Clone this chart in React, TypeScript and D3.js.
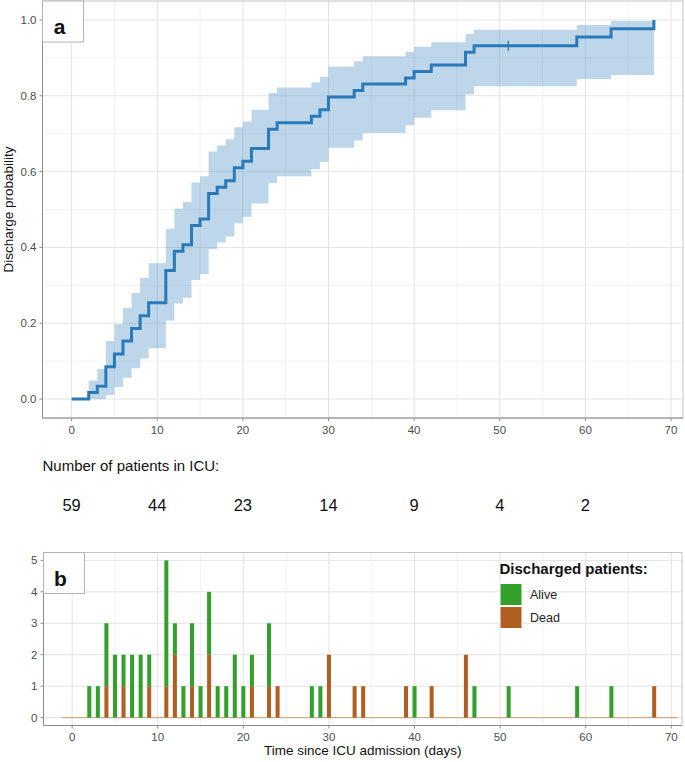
import { useEffect, useRef } from 'react';
import * as d3 from 'd3';

// panel a: cumulative discharge probability (step values)
const kmTimes = [0, 2, 3, 4, 5, 6, 7, 8, 9, 11, 12, 13, 14, 15, 16, 17, 18, 19, 20, 21, 23, 24, 28, 29, 30, 33, 34, 39, 40, 42, 46, 47, 59, 63, 68];
const kmEstimate = [0, 0.017, 0.034, 0.085, 0.119, 0.153, 0.186, 0.22, 0.254, 0.339, 0.39, 0.407, 0.458, 0.475, 0.542, 0.559, 0.576, 0.61, 0.627, 0.661, 0.712, 0.729, 0.746, 0.763, 0.797, 0.814, 0.831, 0.847, 0.864, 0.881, 0.915, 0.932, 0.955, 0.977, 1.0];
const kmLower = [0, 0, 0, 0.011, 0.032, 0.056, 0.081, 0.107, 0.134, 0.207, 0.252, 0.267, 0.314, 0.33, 0.396, 0.413, 0.429, 0.464, 0.481, 0.516, 0.57, 0.588, 0.606, 0.625, 0.663, 0.682, 0.702, 0.722, 0.742, 0.762, 0.804, 0.825, 0.844, 0.855];
const kmUpper = [0, 0.049, 0.079, 0.153, 0.197, 0.24, 0.28, 0.319, 0.358, 0.449, 0.502, 0.52, 0.571, 0.588, 0.653, 0.669, 0.685, 0.717, 0.732, 0.763, 0.807, 0.822, 0.836, 0.85, 0.877, 0.891, 0.904, 0.916, 0.929, 0.941, 0.963, 0.974, 0.987, 0.997];
const censorTimes = [51];
const censorValues = [0.932];

// risk table
const riskTimes = [0, 10, 20, 30, 40, 50, 60];
const riskCounts = [59, 44, 23, 14, 9, 4, 2];

// panel b: discharged patients per day
const barDays = [2, 3, 4, 5, 6, 7, 8, 9, 11, 12, 13, 14, 15, 16, 17, 18, 19, 20, 21, 23, 24, 28, 29, 30, 33, 34, 39, 40, 42, 46, 47, 51, 59, 63, 68];
const aliveCounts = [1, 1, 2, 2, 1, 2, 2, 1, 4, 1, 1, 2, 1, 2, 1, 1, 2, 1, 1, 2, 0, 1, 1, 0, 0, 0, 0, 1, 0, 0, 1, 1, 1, 1, 0];
const deadCounts = [0, 0, 1, 0, 1, 0, 0, 1, 1, 2, 0, 1, 0, 2, 0, 0, 0, 0, 1, 1, 1, 0, 0, 2, 1, 1, 1, 0, 1, 2, 0, 0, 0, 0, 1];
const baselineExtent = [-1.25, 70.8];

const xTicks = [0, 10, 20, 30, 40, 50, 60, 70];
const xMinor = [5, 15, 25, 35, 45, 55, 65];
const yTicksA = [0, 0.2, 0.4, 0.6, 0.8, 1.0];
const yMinorA = [0.1, 0.3, 0.5, 0.7, 0.9];
const yTicksB = [0, 1, 2, 3, 4, 5];

const FONT = '"Liberation Sans", Arial, Helvetica, sans-serif';
const LINE_BLUE = '#2a79b8';
const GREEN = '#33a02c';
const BROWN = '#b15e22';

const App = () => {
  const svgRef = useRef<SVGSVGElement>(null);

  useEffect(() => {
    if (!svgRef.current) return;
    const svg = d3.select(svgRef.current);
    svg.selectAll('*').remove();

    const drawFrame = (
      g: d3.Selection<SVGGElement, unknown, null, undefined>,
      x: d3.ScaleLinear<number, number>,
      y: d3.ScaleLinear<number, number>,
      yTicks: number[],
      yMinor: number[],
      yFmt: (v: number) => string,
      labelY: number
    ) => {
      const [x0, x1] = x.range();
      const [y0, y1] = y.range();
      // minor grid
      g.selectAll('.vminor').data(xMinor).join('line')
        .attr('x1', (d) => x(d)).attr('x2', (d) => x(d)).attr('y1', y1).attr('y2', y0)
        .attr('stroke', '#f2f2f2').attr('stroke-width', 1);
      g.selectAll('.hminor').data(yMinor).join('line')
        .attr('x1', x0).attr('x2', x1).attr('y1', (d) => y(d)).attr('y2', (d) => y(d))
        .attr('stroke', '#f2f2f2').attr('stroke-width', 1);
      // major grid
      g.selectAll('.vmajor').data(xTicks).join('line')
        .attr('x1', (d) => x(d)).attr('x2', (d) => x(d)).attr('y1', y1).attr('y2', y0)
        .attr('stroke', '#e3e3e3').attr('stroke-width', 1);
      g.selectAll('.hmajor').data(yTicks).join('line')
        .attr('x1', x0).attr('x2', x1).attr('y1', (d) => y(d)).attr('y2', (d) => y(d))
        .attr('stroke', '#e3e3e3').attr('stroke-width', 1);
      // ticks + labels
      g.selectAll('.xt').data(xTicks).join('line')
        .attr('x1', (d) => x(d)).attr('x2', (d) => x(d)).attr('y1', y0).attr('y2', y0 + 3)
        .attr('stroke', '#8c8c8c');
      g.selectAll('.xl').data(xTicks).join('text')
        .attr('x', (d) => x(d)).attr('y', labelY)
        .attr('text-anchor', 'middle').attr('font-size', 11.5).attr('fill', '#4d4d4d')
        .attr('font-family', FONT).text((d) => String(d));
      g.selectAll('.yt').data(yTicks).join('line')
        .attr('x1', x0 - 3).attr('x2', x0).attr('y1', (d) => y(d)).attr('y2', (d) => y(d))
        .attr('stroke', '#8c8c8c');
      g.selectAll('.yl').data(yTicks).join('text')
        .attr('x', x0 - 6).attr('y', (d) => y(d) + 4)
        .attr('text-anchor', 'end').attr('font-size', 11.5).attr('fill', '#4d4d4d')
        .attr('font-family', FONT).text((d) => yFmt(d));
    };

    const drawBorder = (
      g: d3.Selection<SVGGElement, unknown, null, undefined>,
      x: d3.ScaleLinear<number, number>,
      y: d3.ScaleLinear<number, number>
    ) => {
      const [x0, x1] = x.range();
      const [y0, y1] = y.range();
      g.append('rect').attr('x', x0).attr('y', y1).attr('width', x1 - x0).attr('height', y0 - y1)
        .attr('fill', 'none').attr('stroke', '#c4c4c4');
      g.append('line').attr('x1', x0).attr('x2', x0).attr('y1', y1).attr('y2', y0).attr('stroke', '#8c8c8c');
      g.append('line').attr('x1', x0).attr('x2', x1).attr('y1', y0).attr('y2', y0).attr('stroke', '#8c8c8c');
    };

    const drawTag = (g: d3.Selection<SVGGElement, unknown, null, undefined>, x: number, y: number, label: string) => {
      g.append('rect').attr('x', x).attr('y', y).attr('width', 41).attr('height', 41)
        .attr('fill', 'white').attr('stroke', '#b3b3b3');
      g.append('text').attr('x', x + 17).attr('y', y + 33).attr('text-anchor', 'middle')
        .attr('font-size', 21).attr('font-weight', 'bold').attr('font-family', FONT).attr('fill', '#111')
        .text(label);
    };

    // ---------- panel a ----------
    const xA = d3.scaleLinear().domain([-3.4, 71.4]).range([42.5, 683]);
    const yA = d3.scaleLinear().domain([-0.05, 1.05]).range([418, 1]);
    const gA = svg.append('g');
    drawFrame(gA, xA, yA, yTicksA, yMinorA, (v) => v.toFixed(1), 434);

    const ribbon = kmLower.map((lo, i) => ({ t: kmTimes[i], lo, hi: kmUpper[i] }));
    ribbon.push({ t: kmTimes[kmTimes.length - 1], lo: kmLower[kmLower.length - 1], hi: kmUpper[kmUpper.length - 1] });
    const area = d3.area<{ t: number; lo: number; hi: number }>()
      .x((d) => xA(d.t)).y0((d) => yA(d.lo)).y1((d) => yA(d.hi))
      .curve(d3.curveStepAfter);
    gA.append('path').attr('d', area(ribbon) as string)
      .attr('fill', '#3d86c2').attr('fill-opacity', 0.34);

    const line = d3.line<number>()
      .x((_, i) => xA(kmTimes[i])).y((d) => yA(d))
      .curve(d3.curveStepAfter);
    gA.append('path').attr('d', line(kmEstimate) as string)
      .attr('fill', 'none').attr('stroke', LINE_BLUE).attr('stroke-width', 3);

    censorTimes.forEach((t, i) => {
      gA.append('line').attr('x1', xA(t)).attr('x2', xA(t))
        .attr('y1', yA(censorValues[i]) - 5).attr('y2', yA(censorValues[i]) + 5)
        .attr('stroke', LINE_BLUE).attr('stroke-width', 1.3);
    });

    drawBorder(gA, xA, yA);
    drawTag(gA, 42.5, 1, 'a');

    svg.append('text')
      .attr('transform', `translate(12.5,${(yA.range()[0] + yA.range()[1]) / 2}) rotate(-90)`)
      .attr('text-anchor', 'middle').attr('font-size', 13.5).attr('font-family', FONT).attr('fill', '#111')
      .text('Discharge probability');

    // ---------- risk table ----------
    svg.append('text').attr('x', 42.5).attr('y', 470.5)
      .attr('font-size', 15).attr('font-family', FONT).attr('fill', '#111')
      .text('Number of patients in ICU:');
    svg.selectAll('.risk').data(riskCounts).join('text')
      .attr('x', (_, i) => xA(riskTimes[i])).attr('y', 511)
      .attr('text-anchor', 'middle').attr('font-size', 16.5).attr('font-family', FONT).attr('fill', '#111')
      .text((d) => String(d));

    // ---------- panel b ----------
    const xB = d3.scaleLinear().domain([-3.35, 71.25]).range([43.5, 682]);
    const yB = d3.scaleLinear().domain([-0.25, 5.25]).range([725.5, 552.5]);
    const gB = svg.append('g');
    drawFrame(gB, xB, yB, yTicksB, [], (v) => String(v), 741);

    gB.append('line')
      .attr('x1', xB(baselineExtent[0])).attr('x2', xB(baselineExtent[1]))
      .attr('y1', yB(0)).attr('y2', yB(0))
      .attr('stroke', '#c9a27e').attr('stroke-width', 1);

    const rows = barDays.map((day, i) => ({ day, dead: deadCounts[i], alive: aliveCounts[i] }));
    const stack = d3.stack<{ day: number; dead: number; alive: number }>().keys(['dead', 'alive']);
    const series = stack(rows);
    const colors: Record<string, string> = { dead: BROWN, alive: GREEN };
    const barW = xB(0.47) - xB(0);
    series.forEach((s) => {
      gB.selectAll(`.bar-${s.key}`).data(s.filter((d) => d[1] > d[0])).join('rect')
        .attr('x', (d) => xB(d.data.day) - barW / 2)
        .attr('width', barW)
        .attr('y', (d) => yB(d[1]))
        .attr('height', (d) => yB(d[0]) - yB(d[1]))
        .attr('fill', colors[s.key]);
    });

    drawBorder(gB, xB, yB);
    drawTag(gB, 43.5, 552.5, 'b');

    // legend
    const legend = gB.append('g');
    legend.append('text').attr('x', 499.5).attr('y', 573.5)
      .attr('font-size', 15).attr('font-weight', 'bold').attr('font-family', FONT).attr('fill', '#111')
      .text('Discharged patients:');
    [['Alive', GREEN], ['Dead', BROWN]].forEach(([label, c], i) => {
      legend.append('rect').attr('x', 500).attr('y', 583.5 + i * 23).attr('width', 22).attr('height', 22)
        .attr('fill', c).attr('stroke', 'white').attr('stroke-width', 1);
      legend.append('text').attr('x', 530).attr('y', 598.5 + i * 23.5)
        .attr('font-size', 12.5).attr('font-family', FONT).attr('fill', '#222')
        .text(label);
    });

    svg.append('text').attr('x', (xB.range()[0] + xB.range()[1]) / 2).attr('y', 754.5)
      .attr('text-anchor', 'middle').attr('font-size', 13.5).attr('font-family', FONT).attr('fill', '#111')
      .text('Time since ICU admission (days)');
  }, []);

  return (
    <svg
      ref={svgRef}
      width={685}
      height={762}
      style={{ position: 'absolute', left: 0, top: 0, display: 'block', background: 'white' }}
    />
  );
};

export default App;
